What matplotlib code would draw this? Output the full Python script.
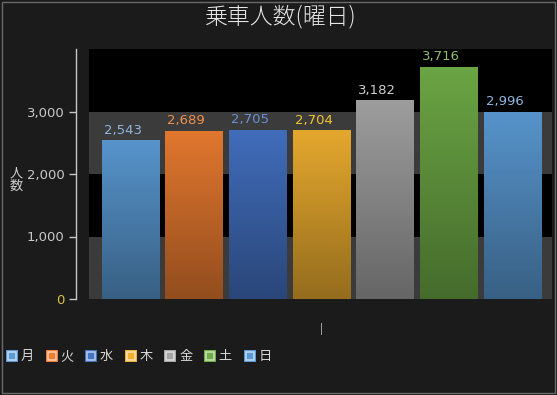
import matplotlib
matplotlib.use("Agg")
import matplotlib.pyplot as plt
import numpy as np
from matplotlib.colors import to_rgb
from matplotlib.patches import Rectangle
from matplotlib.lines import Line2D
from matplotlib import font_manager

plt.rcParams['font.family'] = ['Noto Sans CJK JP', 'DejaVu Sans']

categories = ["月", "火", "水", "木", "金", "土", "日"]
values = [2543, 2689, 2705, 2704, 3182, 3716, 2996]
colors = ["#5b9bd5", "#ed7d31", "#4472c4", "#f0b030", "#a5a5a5", "#70ad47", "#5b9bd5"]
label_colors = ["#8fb6e0", "#f0904a", "#6a8fd6", "#f2c431", "#d0d0d0", "#8fbf6a", "#8fb6e0"]
yticks = [0, 1000, 2000, 3000]
title = "乗車人数(曜日)"
ylabel = "人\n数"

names = {f.name for f in font_manager.fontManager.ttflist}
NUMFONT = ['Liberation Sans Narrow'] if 'Liberation Sans Narrow' in names else ['DejaVu Sans']

BG = "#1b1b1b"
fig = plt.figure(figsize=(5.57, 3.95), dpi=100, facecolor=BG)
ax = fig.add_axes([89/557, 96/395, 463/557, 250/395])
ax.set_facecolor("black")

# alternating bands
ax.axhspan(0, 1000, color="#3b3b3b", zorder=0, lw=0)
ax.axhspan(2000, 3000, color="#3b3b3b", zorder=0, lw=0)

x = np.arange(len(categories))
bars = ax.bar(x, values, width=0.91, color=colors, zorder=2, lw=0)

# gradient fill for bars
for b, c in zip(bars, colors):
    rgb = np.array(to_rgb(c))
    top = np.clip(rgb * 0.95, 0, 1)
    bot = np.clip(rgb * 0.62, 0, 1)
    t = np.linspace(0, 1, 64)[:, None]
    grad = (bot[None, :] * (1 - t) + top[None, :] * t)[:, None, :]
    x0, w, h = b.get_x(), b.get_width(), b.get_height()
    b.set_facecolor("none")
    im = ax.imshow(grad, extent=[x0, x0 + w, 0, h], origin="lower",
                   aspect="auto", zorder=2, interpolation="bilinear")
    im.set_clip_path(b)

ax.set_xlim(-0.652, 6.62)
ax.set_ylim(0, 4000)

# value labels
for b, v, lc in zip(bars, values, label_colors):
    ax.annotate(f"{v:,}", (b.get_x(), v), xytext=(1.5, 2.5), textcoords="offset points",
                ha="left", va="bottom", color=lc, fontsize=9.5,
                family=NUMFONT, zorder=5)

for s in ["top", "right", "bottom"]:
    ax.spines[s].set_visible(False)
ax.spines["left"].set_position(("outward", 9.5))
ax.spines["left"].set_color("#c8c8c8")
ax.spines["left"].set_linewidth(1)
ax.set_xticks([])
ax.set_yticks(yticks)
ax.set_yticklabels([f"{t:,}" for t in yticks], family=NUMFONT)
ax.tick_params(axis="y", colors="#c8c8c8", labelsize=9.5, length=5, width=1, pad=3)
ax.get_yticklabels()[0].set_color("#d8c040")

fig.text(281/557, 1 - 17/395, title, ha="center", va="center", color="#e6e6e6",
         fontsize=16.5, fontweight="light")
fig.text(16/557, 1 - 180/395, ylabel, ha="center", va="center", color="#d0d0d0",
         fontsize=9.5, linespacing=0.95)
fig.text(321/557, 1 - 329/395, "|", ha="center", va="center", color="#c8c8c8",
         fontsize=8)

handles = []
for c in colors:
    rgb = np.array(to_rgb(c))
    outer = Line2D([0], [0], marker="s", linestyle="none", markersize=9,
                   markerfacecolor=c, markeredgecolor=c, markeredgewidth=0)
    inner = Line2D([0], [0], marker="s", linestyle="none", markersize=6,
                   markerfacecolor=c, markeredgecolor=tuple(np.clip(rgb * 0.4 + 0.6, 0, 1)),
                   markeredgewidth=1.2)
    handles.append((outer, inner))
leg = fig.legend(handles, categories, loc="lower left", bbox_to_anchor=(4/557, 1 - 366/395),
                 ncol=7, frameon=False, handlelength=0.8, handletextpad=0.25,
                 columnspacing=0.95, fontsize=9.5, borderaxespad=0, borderpad=0.2)
for t in leg.get_texts():
    t.set_color("#d8d8d8")

fig.patches.append(Rectangle((0.004, 0.004), 0.992, 0.99, transform=fig.transFigure,
                             fill=False, edgecolor="#6a6a6a", lw=1))

fig.savefig("out.png", dpi=100, facecolor=BG)
